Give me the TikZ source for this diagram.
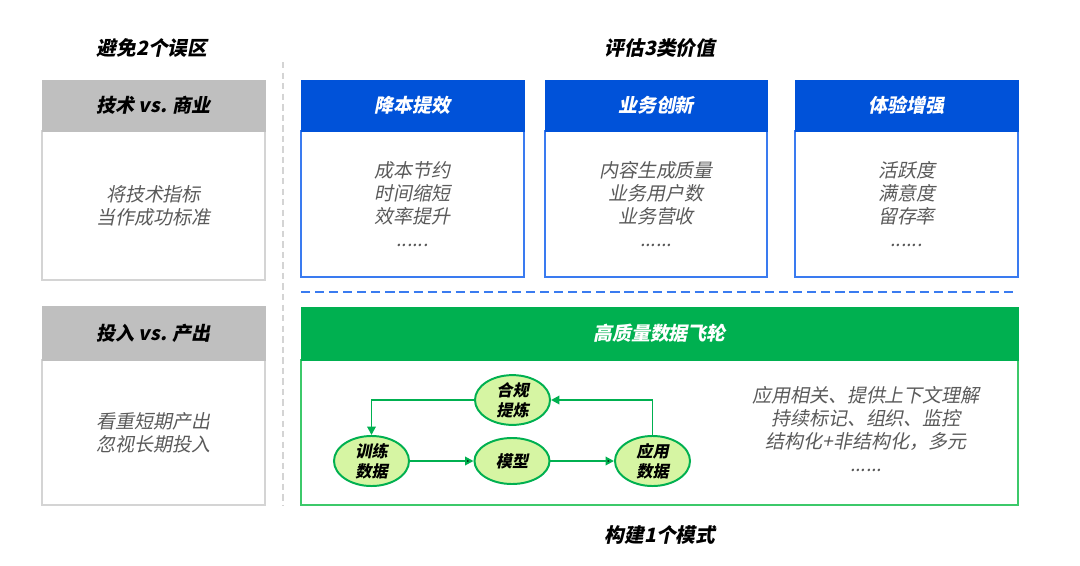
\documentclass[tikz,border=0pt]{standalone}
\usepackage{fontspec}
\setmainfont{Noto Sans CJK SC}[FakeSlant=0.2]
\usetikzlibrary{shapes,arrows.meta}

\definecolor{hdgray}{HTML}{BFBFBF}
\definecolor{bdgray}{HTML}{D4D4D4}
\definecolor{txtgray}{HTML}{5A5A5A}
\definecolor{hdblue}{HTML}{0052D9}
\definecolor{bdblue}{HTML}{3A7BF0}
\definecolor{hdgreen}{HTML}{00B050}
\definecolor{bdgreen}{HTML}{3CC96A}
\definecolor{ovfill}{HTML}{D6F5A3}

\tikzset{
  title/.style={font=\fontsize{14}{17}\selectfont\bfseries,text=black},
  head/.style={shape=rectangle,inner sep=0pt,font=\fontsize{13.5}{16}\selectfont\bfseries},
  body/.style={shape=rectangle,inner sep=0pt,align=center,line width=1.2pt,fill=white,text=txtgray,font=\fontsize{13.5}{16.4}\selectfont},
  oval/.style={shape=ellipse,draw=hdgreen,fill=ovfill,line width=1.4pt,inner sep=0pt,align=center,minimum width=1.875cm,minimum height=1.15cm,font=\fontsize{11.5}{14}\selectfont\bfseries},
  flow/.style={draw=hdgreen,line width=1.4pt,-{Triangle[length=6pt,width=6pt]}}
}

\begin{document}
\begin{tikzpicture}[x=0.025cm,y=-0.025cm]
\useasboundingbox (0,0) rectangle (1080,566);

% titles
\node[title] (t1) at (152,48) {避免2个误区};
\node[title] (t2) at (660,48) {评估3类价值};
\node[title] (t3) at (660,535) {构建1个模式};

% two traps
\node[body,draw=bdgray,minimum width=5.575cm,minimum height=3.725cm] (b1) at (153.5,205.5) {将技术指标\\当作成功标准};
\node[head,fill=hdgray,draw=hdgray,minimum width=5.575cm,minimum height=1.275cm] (h1) at (153.5,105.5) {技术 vs. 商业};
\node[body,draw=bdgray,minimum width=5.575cm,minimum height=3.625cm] (b2) at (153.5,432.5) {看重短期产出\\忽视长期投入};
\node[head,fill=hdgray,draw=hdgray,minimum width=5.575cm,minimum height=1.35cm] (h2) at (153.5,333) {投入 vs. 产出};

% three values
\node[body,draw=bdblue,minimum width=5.575cm,minimum height=3.65cm] (b3) at (412.5,204) {成本节约\\时间缩短\\效率提升\\......};
\node[head,fill=hdblue,draw=hdblue,text=white,minimum width=5.575cm,minimum height=1.275cm] (h3) at (412.5,105.5) {降本提效};
\node[body,draw=bdblue,minimum width=5.55cm,minimum height=3.65cm] (b4) at (656,204) {内容生成质量\\业务用户数\\业务营收\\......};
\node[head,fill=hdblue,draw=hdblue,text=white,minimum width=5.55cm,minimum height=1.275cm] (h4) at (656,105.5) {业务创新};
\node[body,draw=bdblue,minimum width=5.575cm,minimum height=3.65cm] (b5) at (906.5,204) {活跃度\\满意度\\留存率\\......};
\node[head,fill=hdblue,draw=hdblue,text=white,minimum width=5.575cm,minimum height=1.275cm] (h5) at (906.5,105.5) {体验增强};

% one pattern
\node[body,draw=bdgreen,minimum width=17.925cm,minimum height=3.625cm] (b6) at (659.5,432.5) {};
\node[head,fill=hdgreen,draw=hdgreen,text=white,minimum width=17.925cm,minimum height=1.325cm] (h6) at (659.5,333.5) {高质量数据飞轮};
\node[body,align=center] (note) at (866,429) {应用相关、提供上下文理解\\持续标记、组织、监控\\结构化+非结构化，多元\\......};

% flywheel
\node[oval] (comply) at (512.5,400) {合规\\提炼};
\node[oval] (train) at (371.5,461) {训练\\数据};
\node[oval] (model) at (512,461) {模型};
\node[oval] (apply) at (652.5,461) {应用\\数据};

\path [flow] (train) edge node {} (model);
\path [flow] (model) edge node {} (apply);
\draw [flow] (apply.north) |- (comply.east);
\draw [flow] (comply.west) -| (train.north);

% separators
\coordinate (v1) at (283,62);
\coordinate (v2) at (283,505);
\coordinate (d1) at (301,292);
\coordinate (d2) at (1018,292);
\draw [draw=bdgray,line width=1.2pt,dash pattern=on 4.5pt off 3pt] (v1) -- (v2);
\draw [draw=bdblue,line width=1.4pt,dash pattern=on 6.5pt off 3.5pt] (d1) -- (d2);
\end{tikzpicture}
\end{document}
